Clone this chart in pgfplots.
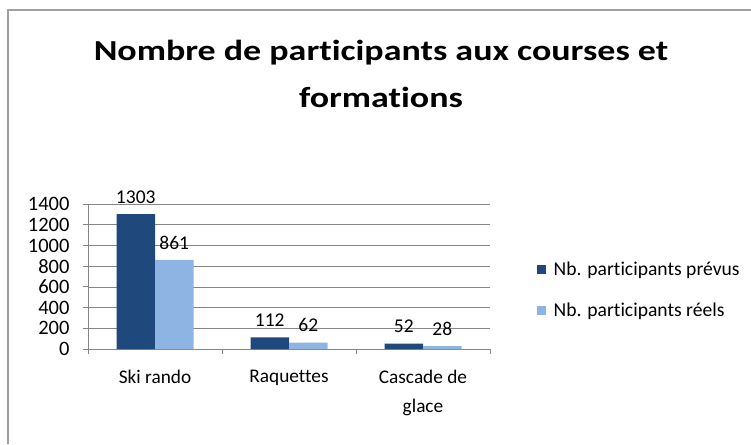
\documentclass[border=0pt]{standalone}
\usepackage{pgfplots}
\pgfplotsset{compat=1.18}
\usepackage{fontspec}
\setmainfont{Carlito}[Ligatures=NoCommon]
\definecolor{dk}{HTML}{1F497D}
\definecolor{lt}{HTML}{8EB4E3}
\definecolor{gr}{HTML}{868686}
\definecolor{bd}{HTML}{A0A0A0}
\begin{document}
\begin{tikzpicture}[x=1pt,y=1pt]
\useasboundingbox (0,0) rectangle (751,444);
\draw[bd, line width=1.2pt] (8,0) -- (8,434) -- (751,434);
\node[font=\fontsize{29}{33}\selectfont\bfseries, anchor=base, xscale=1.24] at (381,383) {Nombre de participants aux courses et};
\node[font=\fontsize{29}{33}\selectfont\bfseries, anchor=base, xscale=1.24] at (381,336) {formations};
\begin{axis}[
  at={(88pt,95pt)}, anchor=south west,
  scale only axis, width=402pt, height=145pt,
  xmin=-0.5, xmax=2.5, ymin=0, ymax=1400,
  ybar=0pt, bar width=38.5pt,
  axis lines=left, axis line style={-, gr, line width=0.8pt},
  ytick={0,200,...,1400},
  ymajorgrids, grid style={gr, line width=0.6pt},
  tick style={gr, line width=0.8pt},
  tick align=outside, major tick length=5pt,
  xtick={-0.5,0.5,1.5,2.5}, xticklabels={},
  extra x ticks={0,1,2},
  extra x tick labels={Ski rando, Raquettes, {Cascade de\\glace}},
  extra x tick style={major tick length=0pt, xticklabel style={align=center, yshift=-18pt}},
  tick label style={font=\fontsize{19.3}{29}\selectfont},
  yticklabel style={font=\fontsize{20.5}{24}\selectfont, xshift=-10pt},
  /pgf/number format/assume math mode=true,
  /pgf/number format/1000 sep={},
  nodes near coords,
  nodes near coords style={font=\fontsize{19.5}{23}\selectfont, anchor=south, yshift=7pt, /pgf/number format/assume math mode=true, /pgf/number format/1000 sep={}},
  legend style={draw=none, fill=none, at={(axis description cs:1.108,0.407)}, anchor=west,
    font=\fontsize{19.6}{24}\selectfont, row sep=22pt, legend cell align=left},
  legend image code/.code={\fill[#1,draw=none] (0pt,-4.5pt) rectangle (9pt,4.5pt); \path (15pt,0pt);},
]
\addplot[fill=dk, draw=none] coordinates {(0,1303) (1,112) (2,52)};
\addplot[fill=lt, draw=none] coordinates {(0,861) (1,62) (2,28)};
\legend{Nb. participants prévus, Nb. participants réels}
\end{axis}
\end{tikzpicture}
\end{document}
